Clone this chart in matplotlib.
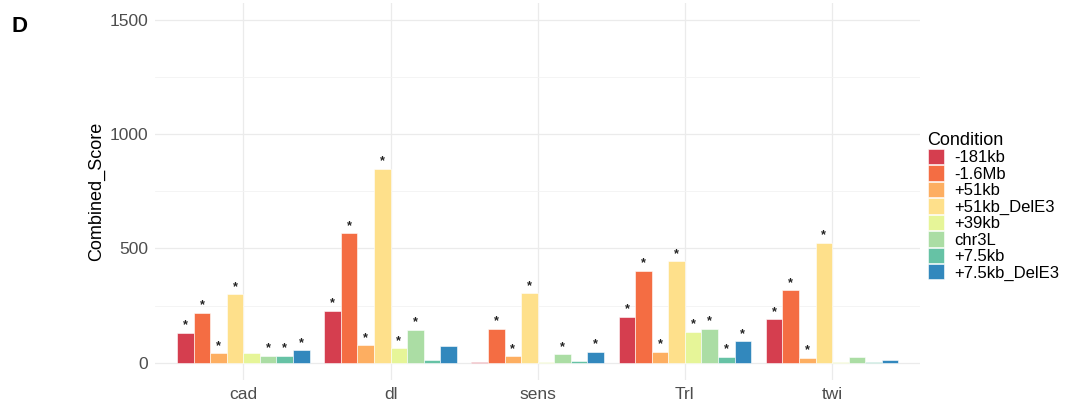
import numpy as np
import matplotlib.pyplot as plt
from matplotlib.patches import Patch

plt.rcParams['font.family'] = ['Liberation Sans', 'DejaVu Sans']

genes = ['cad', 'dl', 'sens', 'Trl', 'twi']
conditions = ['-181kb', '-1.6Mb', '+51kb', '+51kb_DelE3', '+39kb', 'chr3L', '+7.5kb', '+7.5kb_DelE3']
colors = ['#D53E4F', '#F46D43', '#FDAE61', '#FEE08B', '#E6F598', '#ABDDA4', '#66C2A5', '#3288BD']

# scores per condition, in gene order (cad, dl, sens, Trl, twi)
score_181kb = [130, 227, 3, 202, 190]
score_1_6Mb = [219, 566, 149, 403, 318]
score_51kb = [41, 76, 29, 48, 21]
score_51kb_dele3 = [300, 850, 303, 443, 526]
score_39kb = [41, 63, 3, 136, 4]
score_chr3l = [31, 143, 37, 149, 26]
score_7_5kb = [31, 13, 7, 26, 3]
score_7_5kb_dele3 = [54, 75, 48, 94, 10]

# significance flags (asterisk above bar)
sig_181kb = [1, 1, 0, 1, 1]
sig_1_6Mb = [1, 1, 1, 1, 1]
sig_51kb = [1, 1, 1, 1, 1]
sig_51kb_dele3 = [1, 1, 1, 1, 1]
sig_39kb = [0, 1, 0, 1, 0]
sig_chr3l = [1, 1, 1, 1, 0]
sig_7_5kb = [1, 0, 0, 1, 0]
sig_7_5kb_dele3 = [1, 0, 1, 1, 0]

scores = [score_181kb, score_1_6Mb, score_51kb, score_51kb_dele3,
          score_39kb, score_chr3l, score_7_5kb, score_7_5kb_dele3]
sigs = [sig_181kb, sig_1_6Mb, sig_51kb, sig_51kb_dele3,
        sig_39kb, sig_chr3l, sig_7_5kb, sig_7_5kb_dele3]

fig = plt.figure(figsize=(10.69, 4.08), dpi=100)
ax = fig.add_axes([0.145, 0.069, 0.716, 0.924])

x = np.arange(len(genes))
n = len(conditions)
w = 0.9 / n
for j, (cond, vals, sg, col) in enumerate(zip(conditions, scores, sigs, colors)):
    pos = x + (j - (n - 1) / 2) * w
    ax.bar(pos, vals, width=w, color=col, edgecolor='white', linewidth=0.4,
           label=cond, zorder=2)
    for p, v, s in zip(pos, vals, sg):
        if s:
            ax.text(p, v + 6, '*', ha='center', va='bottom', fontsize=9,
                    fontweight='bold', color='#222222', zorder=3)

ax.set_xlim(-0.6, len(genes) - 0.4)
ax.set_ylim(-75, 1575)
ax.set_yticks([0, 500, 1000, 1500])
ax.set_yticks([250, 750, 1250], minor=True)
ax.set_xticks(x)
ax.set_xticklabels(genes)
ax.grid(True, which='major', color='#EBEBEB', linewidth=0.9, zorder=0)
ax.grid(True, which='minor', axis='y', color='#F3F3F3', linewidth=0.6, zorder=0)
ax.set_axisbelow(True)
for sp in ax.spines.values():
    sp.set_visible(False)
ax.tick_params(which='both', length=0, labelsize=12.5, colors='#4D4D4D', pad=5)
ax.set_ylabel('Combined_Score', fontsize=13, color='black', labelpad=3)

handles = [Patch(facecolor=c, edgecolor='white', linewidth=0.4) for c in colors]
leg = fig.legend(handles, conditions, title='Condition', loc='upper left',
                 bbox_to_anchor=(0.8615, 0.693), frameon=False, fontsize=12,
                 title_fontsize=13, handlelength=1.0, handleheight=1.05,
                 labelspacing=0.0, handletextpad=0.6, borderaxespad=0)
leg._legend_box.align = 'left'

fig.text(0.011, 0.935, 'D', fontsize=16, fontweight='bold', va='center')

fig.savefig('out.png', dpi=100)
